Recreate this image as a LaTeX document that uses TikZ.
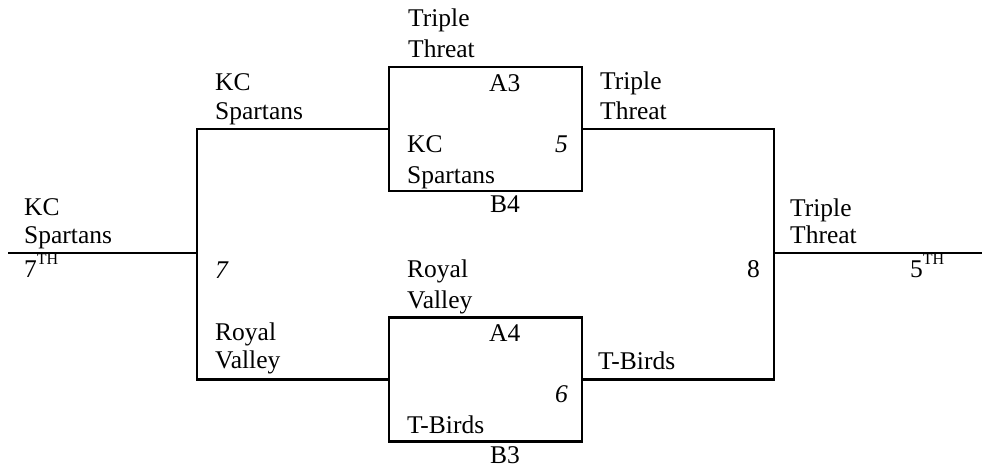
\documentclass[tikz,border=0pt]{standalone}
\usepackage{fontspec}
\setmainfont{Liberation Serif}
\newcommand{\ordsup}[1]{\raisebox{0.5em}{\fontsize{16}{16}\selectfont #1}}
\begin{document}
\begin{tikzpicture}[x=1pt,y=-1pt,
  lbl/.style={anchor=base west,inner sep=0pt,font=\fontsize{25.5}{29}\selectfont},
  gamebox/.style={draw,line width=2.5pt,minimum width=193pt,minimum height=124pt,inner sep=0pt},
  wire/.style={line width=2.5pt}]
\useasboundingbox (0,0) rectangle (982,471);
% boxes
\node[gamebox] (boxA) at (485.5,129) {};
\node[gamebox] (boxB) at (485.5,379.5) {};
% junction coordinates
\coordinate (jl) at (197,253);
\coordinate (lin) at (8,253);
\coordinate (jr) at (774,253);
\coordinate (rout) at (982,253);
% connectors
\draw[wire] (boxA.west) -| (jl) |- (boxB.west);
\draw[wire] (lin) -- (jl);
\draw[wire] (boxA.east) -| (jr) |- (boxB.east);
\draw[wire] (jr) -- (rout);
% left seed
\node[lbl] (l1a) at (24,215) {KC};
\node[lbl] (l1b) at (24,243) {Spartans};
\node[lbl] (l1c) at (24,277) {7\ordsup{TH}};
% first bracket labels
\node[lbl] (k1a) at (215,90) {KC};
\node[lbl] (k1b) at (215,119) {Spartans};
\node[lbl] (g7) at (215,278) {\itshape 7};
\node[lbl] (r1a) at (215,340) {Royal};
\node[lbl] (r1b) at (215,368) {Valley};
% box A
\node[lbl] (t1a) at (408,27) {Triple};
\node[lbl] (t1b) at (408,57) {Threat};
\node[lbl] (a3) at (489,91) {A3};
\node[lbl] (k2a) at (407,152) {KC};
\node[lbl] (k2b) at (407,183) {Spartans};
\node[lbl] (g5) at (555,152) {\itshape 5};
\node[lbl] (b4) at (490,212) {B4};
% box B
\node[lbl] (r2a) at (407,277) {Royal};
\node[lbl] (r2b) at (407,308) {Valley};
\node[lbl] (a4) at (489,341) {A4};
\node[lbl] (g6) at (555,402) {\itshape 6};
\node[lbl] (tb1) at (407,433) {T-Birds};
\node[lbl] (b3) at (490,463) {B3};
% right bracket
\node[lbl] (t2a) at (600,89) {Triple};
\node[lbl] (t2b) at (600,119) {Threat};
\node[lbl] (tb2) at (598,369) {T-Birds};
\node[lbl] (g8) at (747,277) {8};
% final
\node[lbl] (t3a) at (790,216) {Triple};
\node[lbl] (t3b) at (790,243) {Threat};
\node[lbl] (f5) at (910,277) {5\ordsup{TH}};
\end{tikzpicture}
\end{document}
